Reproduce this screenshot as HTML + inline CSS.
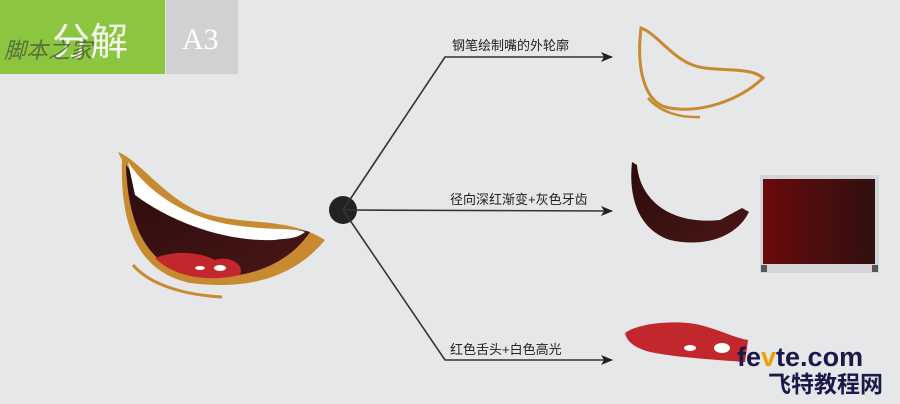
<!DOCTYPE html>
<html><head><meta charset="utf-8"><style>
html,body{margin:0;padding:0;background:#e6e7e9;}
svg{display:block;}
text{font-family:"Liberation Sans","Noto Sans CJK SC",sans-serif;}
</style></head><body>
<svg width="900" height="404" viewBox="0 0 900 404" xmlns="http://www.w3.org/2000/svg">
<defs>
<linearGradient id="g1" x1="0" x2="1" y1="0" y2="0"><stop offset="0" stop-color="#6a0a0c"/><stop offset="1" stop-color="#2f1010"/></linearGradient>
<linearGradient id="g2" x1="0" x2="1" y1="0" y2="1"><stop offset="0" stop-color="#2c0c0c"/><stop offset="1" stop-color="#4a1616"/></linearGradient>
<marker id="ar" markerWidth="12" markerHeight="10" refX="11" refY="5" orient="auto" markerUnits="userSpaceOnUse"><path d="M0,0 L12,5 L0,10 L3,5 Z" fill="#222"/></marker>
</defs>
<rect width="900" height="404" fill="#e6e7e9"/>
<rect x="0" y="0" width="165" height="74" fill="#8cc540"/>
<rect x="166" y="0" width="72" height="74" fill="#d0d1d3"/>
<text x="52" y="55" font-size="38" fill="#f4f8ee">分解</text>
<text x="4" y="58" font-size="22" font-style="italic" fill="#4a5a3a" opacity="0.8">脚本之家</text>
<text x="182" y="49" font-size="30" fill="#fff" style="font-family:'Liberation Serif',serif">A3</text>

<circle cx="343" cy="210" r="14" fill="#222"/>
<path d="M343,210 L445,57 L612,57" fill="none" stroke="#333" stroke-width="1.6" marker-end="url(#ar)"/>
<path d="M343,210 L612,211" fill="none" stroke="#333" stroke-width="1.6" marker-end="url(#ar)"/>
<path d="M343,210 L445,360 L612,360" fill="none" stroke="#333" stroke-width="1.6" marker-end="url(#ar)"/>
<text x="452" y="50" font-size="13" fill="#222">钢笔绘制嘴的外轮廓</text>
<text x="450" y="204" font-size="13" fill="#222">径向深红渐变+灰色牙齿</text>
<text x="450" y="354" font-size="13" fill="#222">红色舌头+白色高光</text>

<path d="M118,152 C140,160 170,205 210,215 C250,225 290,218 325,240 C300,270 260,292 190,283 C140,272 120,230 122,160 Z" fill="#c88a30"/>
<path d="M126,165 C150,195 180,220 230,228 C270,232 300,228 310,232 C290,262 250,282 195,276 C150,268 128,230 126,165 Z" fill="url(#g2)"/>
<path d="M128,162 C150,195 190,220 240,226 C270,230 295,228 305,232 C295,240 285,238 275,240 C230,242 175,225 135,195 Z" fill="#fff"/>
<path d="M155,258 C175,250 200,252 215,260 C230,255 245,265 240,275 C210,282 175,278 155,258 Z" fill="#c1272d"/>
<ellipse cx="200" cy="268" rx="5" ry="2" fill="#fff"/>
<ellipse cx="220" cy="268" rx="6" ry="3" fill="#fff"/>
<path d="M133,265 C150,285 185,295 222,297" fill="none" stroke="#c88a30" stroke-width="3"/>

<path d="M641,28 C660,35 675,65 705,68 C730,71 752,68 763,78 C740,100 700,115 665,107 C645,100 636,70 641,28 Z" fill="none" stroke="#c88a30" stroke-width="3"/>
<path d="M648,98 C660,112 680,118 700,117" fill="none" stroke="#c88a30" stroke-width="2.5"/>

<path d="M632,162 L637,165 C640,200 670,225 720,220 L742,208 L749,212 C735,240 700,247 670,240 C640,230 628,200 632,162 Z" fill="url(#g2)"/>

<rect x="760" y="175" width="119" height="98" fill="#d4d5d7"/>
<rect x="763" y="179" width="112" height="85" fill="url(#g1)"/>
<rect x="761" y="265" width="6" height="7" fill="#555"/>
<rect x="872" y="265" width="6" height="7" fill="#555"/>

<path d="M625,333 C640,322 680,320 700,325 C720,330 735,338 748,340 L745,362 C720,360 680,358 650,352 C635,348 627,342 625,333 Z" fill="#c1272d"/>
<ellipse cx="690" cy="348" rx="6" ry="3" fill="#fff"/>
<ellipse cx="722" cy="348" rx="8" ry="5" fill="#fff"/>

<text x="737" y="366" font-size="27" font-weight="bold" fill="#1a1a4a">fe<tspan fill="#f0a000">v</tspan>te.com</text>
<text x="768" y="392" font-size="23" font-weight="bold" fill="#1a1a4a">飞特教程网</text>
</svg>
</body></html>
